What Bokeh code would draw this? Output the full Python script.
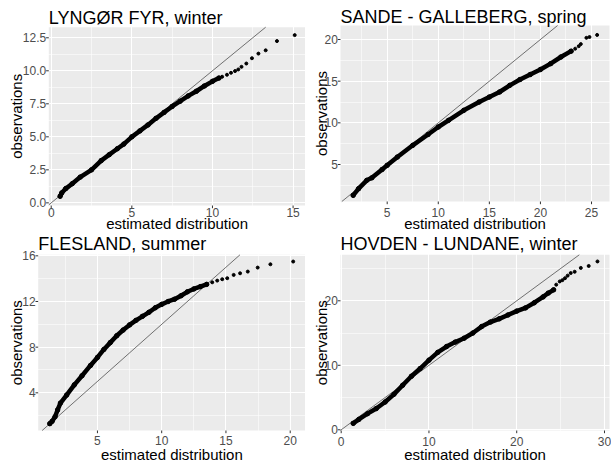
import math
from bokeh.plotting import figure
from bokeh.layouts import column, row
from bokeh.models import Range1d, FixedTicker
from bokeh.core.properties import value
from bokeh.embed import file_html
from bokeh.resources import INLINE

FONT = "Liberation Sans"

# ---------------- data ----------------
titles = ["LYNGØR FYR, winter", "SANDE - GALLEBERG, spring",
          "FLESLAND, summer", "HOVDEN - LUNDANE, winter"]
x_title = "estimated distribution"
y_title = "observations"

# Panel 1: LYNGØR FYR, winter
p1_dense_x = [0.55, 0.65, 0.9, 1.3, 1.8, 2.5, 3.1, 3.6, 4.1, 4.5, 5.0, 5.5, 6.0,
              6.5, 7.0, 7.5, 8.0, 8.5, 9.0, 9.5, 10.0, 10.4]
p1_dense_y = [0.5, 0.75, 1.08, 1.45, 1.95, 2.5, 3.2, 3.65, 4.1, 4.45, 5.0, 5.45, 5.9,
              6.4, 6.85, 7.3, 7.7, 8.1, 8.45, 8.85, 9.2, 9.45]
p1_tail_x = [10.6, 10.9, 11.15, 11.4, 11.6, 11.8, 12.1, 12.45, 12.85, 13.3, 14.0, 15.1]
p1_tail_y = [9.55, 9.7, 9.85, 9.98, 10.1, 10.3, 10.55, 10.95, 11.3, 11.55, 12.25, 12.7]

# Panel 2: SANDE - GALLEBERG, spring
p2_dense_x = [1.67, 2.2, 3.0, 3.5, 4.5, 5.0, 6.0, 7.5, 9.0, 10.0, 11.0, 12.5, 14.0,
              15.0, 16.0, 17.0, 18.0, 19.0, 20.0, 21.0, 22.0, 23.0]
p2_dense_y = [1.3, 2.1, 3.1, 3.4, 4.4, 4.9, 5.9, 7.3, 8.6, 9.5, 10.3, 11.5, 12.5,
              13.1, 13.7, 14.5, 15.2, 15.8, 16.4, 17.1, 17.9, 18.6]
p2_tail_x = [23.4, 23.75, 23.95, 24.5, 24.8, 25.55]
p2_tail_y = [18.9, 19.2, 19.45, 20.2, 20.3, 20.55]

# Panel 3: FLESLAND, summer
p3_dense_x = [1.29, 1.47, 1.7, 1.9, 2.12, 2.6, 3.2, 3.8, 4.46, 5.0, 5.5, 6.0, 6.5,
              7.0, 7.5, 8.0, 8.5, 9.0, 9.5, 10.0, 10.5, 11.0, 11.5, 12.0, 12.5, 13.0, 13.5]
p3_dense_y = [1.3, 1.5, 1.9, 2.5, 3.1, 3.8, 4.7, 5.5, 6.4, 7.1, 7.8, 8.4, 9.0,
              9.5, 9.95, 10.35, 10.7, 11.05, 11.45, 11.75, 12.0, 12.2, 12.5, 12.85, 13.1, 13.3, 13.5]
p3_tail_x = [13.93, 14.32, 14.71, 15.1, 15.6, 16.1, 16.7, 17.47, 18.46, 20.23]
p3_tail_y = [13.68, 13.83, 13.95, 14.04, 14.33, 14.47, 14.62, 14.97, 15.26, 15.5]

# Panel 4: HOVDEN - LUNDANE, winter
p4_dense_x = [1.37, 2.0, 3.0, 4.0, 5.0, 6.0, 7.0, 8.0, 9.0, 10.0, 11.0, 12.0, 13.0,
              14.0, 15.0, 16.0, 17.0, 18.0, 19.0, 20.0, 21.0, 22.0, 23.0, 23.6, 24.2]
p4_dense_y = [1.0, 1.6, 2.5, 3.3, 4.3, 5.5, 6.9, 8.3, 9.5, 10.8, 12.0, 12.9, 13.6,
              14.2, 15.0, 16.0, 16.7, 17.2, 17.8, 18.4, 18.9, 19.7, 20.6, 21.2, 21.7]
p4_tail_x = [24.5, 24.9, 25.2, 25.5, 25.8, 26.15, 26.6, 27.3, 28.2, 29.2]
p4_tail_y = [22.5, 23.0, 23.2, 23.5, 23.9, 24.3, 24.5, 25.1, 25.4, 26.1]

# ticks
p1_xticks = [0, 5, 10, 15];            p1_xlabels = ["0", "5", "10", "15"]
p1_yticks = [0, 2.5, 5, 7.5, 10, 12.5]; p1_ylabels = ["0.0", "2.5", "5.0", "7.5", "10.0", "12.5"]
p1_xminor = [2.5, 7.5, 12.5];          p1_yminor = [1.25, 3.75, 6.25, 8.75, 11.25]

p2_xticks = [5, 10, 15, 20, 25];       p2_xlabels = ["5", "10", "15", "20", "25"]
p2_yticks = [5, 10, 15, 20];           p2_ylabels = ["5", "10", "15", "20"]
p2_xminor = [2.5, 7.5, 12.5, 17.5, 22.5]; p2_yminor = [2.5, 7.5, 12.5, 17.5]

p3_xticks = [5, 10, 15, 20];           p3_xlabels = ["5", "10", "15", "20"]
p3_yticks = [4, 8, 12, 16];            p3_ylabels = ["4", "8", "12", "16"]
p3_xminor = [2.5, 7.5, 12.5, 17.5];    p3_yminor = [2, 6, 10, 14]

p4_xticks = [0, 10, 20, 30];           p4_xlabels = ["0", "10", "20", "30"]
p4_yticks = [0, 10, 20];               p4_ylabels = ["0", "10", "20"]
p4_xminor = [5, 15, 25];               p4_yminor = [5, 15, 25]

# ---------------- layout / style ----------------
# box = grey panel in figure pixels (left, right, top, bottom); xr/yr = panel limits
# text centres in figure pixels: tc = title (y), xc = x tick labels (y),
# lc = x title (y), yc = y title (x)
panels = [
    dict(title=titles[0], dx=p1_dense_x, dy=p1_dense_y, tx=p1_tail_x, ty=p1_tail_y,
         xr=(-0.15, 15.77), yr=(-0.2, 13.3), box=(48.3, 305, 26.7, 205),
         xt=p1_xticks, xl=p1_xlabels, xm=p1_xminor, yt=p1_yticks, yl=p1_ylabels, ym=p1_yminor,
         w=305, h=231, tc=17.0, xc=211.5, lc=222.8, yc=15.5),
    dict(title=titles[1], dx=p2_dense_x, dy=p2_dense_y, tx=p2_tail_x, ty=p2_tail_y,
         xr=(0.43, 26.76), yr=(0.56, 21.68), box=(35, 304, 25, 201),
         xt=p2_xticks, xl=p2_xlabels, xm=p2_xminor, yt=p2_yticks, yl=p2_ylabels, ym=p2_yminor,
         w=306, h=231, tc=16.4, xc=211.5, lc=223.2, yc=15.5),
    dict(title=titles[2], dx=p3_dense_x, dy=p3_dense_y, tx=p3_tail_x, ty=p3_tail_y,
         xr=(0.39, 21.19), yr=(0.70, 16.09), box=(37.7, 305, 23.3, 199),
         xt=p3_xticks, xl=p3_xlabels, xm=p3_xminor, yt=p3_yticks, yl=p3_ylabels, ym=p3_yminor,
         w=305, h=231, tc=12.0, xc=209.3, lc=222.6, yc=15.5),
    dict(title=titles[3], dx=p4_dense_x, dy=p4_dense_y, tx=p4_tail_x, ty=p4_tail_y,
         xr=(-0.08, 30.57), yr=(-0.11, 27.13), box=(35, 304, 23.3, 199),
         xt=p4_xticks, xl=p4_xlabels, xm=p4_xminor, yt=p4_yticks, yl=p4_ylabels, ym=p4_yminor,
         w=306, h=231, tc=12.0, xc=209.5, lc=222.6, yc=15.5),
]

TICK_LEN = 2.7      # px
LABEL_GAP = 2.6     # px between y tick labels and the panel


def make_panel(c):
    L, R, T, B = c["box"]
    x0, x1 = c["xr"]
    y0, y1 = c["yr"]
    w, h = c["w"], c["h"]
    kx = (x1 - x0) / (R - L)
    ky = (y1 - y0) / (B - T)

    def X(px):
        return x0 + (px - L) * kx

    def Y(py):
        return y1 - (py - T) * ky

    p = figure(width=w, height=h, output_backend="svg", toolbar_location=None,
               x_range=Range1d(X(0), X(w)), y_range=Range1d(Y(h), Y(0)),
               x_axis_location=None, y_axis_location=None)
    p.min_border_left = p.min_border_right = p.min_border_top = p.min_border_bottom = 0
    p.background_fill_color = "white"
    p.border_fill_color = "white"
    p.outline_line_color = None

    # grey panel (drawn beneath the grid)
    p.quad(left=[x0], right=[x1], bottom=[y0], top=[y1], fill_color="#EBEBEB",
           line_color=None, level="image")

    # grid: major + minor white lines
    p.xgrid.ticker = FixedTicker(ticks=c["xt"], minor_ticks=c["xm"])
    p.ygrid.ticker = FixedTicker(ticks=c["yt"], minor_ticks=c["ym"])
    for g in (p.xgrid[0], p.ygrid[0]):
        g.grid_line_color = "white"
        g.grid_line_width = 1.1
        g.minor_grid_line_color = "white"
        g.minor_grid_line_width = 0.55
    p.xgrid[0].bounds = (x0, x1)
    p.ygrid[0].bounds = (y0, y1)

    # axis ticks
    nx, ny = len(c["xt"]), len(c["yt"])
    p.segment(x0=c["xt"], y0=[y0] * nx, x1=c["xt"], y1=[Y(B + TICK_LEN)] * nx,
              line_color="#333333", line_width=1)
    p.segment(x0=[X(L - TICK_LEN)] * ny, y0=c["yt"], x1=[x0] * ny, y1=c["yt"],
              line_color="#333333", line_width=1)

    txt = dict(text_font=value(FONT), text_baseline="middle")

    # tick labels
    p.text(x=c["xt"], y=[Y(c["xc"])] * nx, text=c["xl"], text_align="center",
           text_font_size="12px", text_color="#4D4D4D", **txt)
    p.text(x=[X(L - LABEL_GAP)] * ny, y=c["yt"], text=c["yl"], text_align="right",
           text_font_size="12px", text_color="#4D4D4D", **txt)

    # y = x reference line, limited to the panel
    lo, hi = max(x0, y0), min(x1, y1)
    p.line([lo, hi], [lo, hi], line_color="#3a3a3a", line_width=0.7)

    # observations
    p.line(c["dx"], c["dy"], line_color="black", line_width=4.5, line_cap="round", line_join="round")
    p.scatter(c["dx"], c["dy"], size=4.5, color="black")
    p.scatter(c["tx"], c["ty"], size=3, color="black")

    # titles
    p.text(x=[X(L)], y=[Y(c["tc"])], text=[c["title"]], text_font_size="18px",
           text_color="black", text_align="left", **txt)
    p.text(x=[(x0 + x1) / 2], y=[Y(c["lc"])], text=[x_title], text_font_size="15px",
           text_color="black", text_align="center", **txt)
    p.text(x=[X(c["yc"])], y=[(y0 + y1) / 2], text=[y_title], text_font_size="15px",
           text_color="black", angle=math.pi / 2, text_align="center", **txt)
    return p


figs = [make_panel(c) for c in panels]
layout = column(row(figs[0], figs[1], spacing=0), row(figs[2], figs[3], spacing=0), spacing=0)

open("out.html", "w").write(file_html(layout, INLINE))
